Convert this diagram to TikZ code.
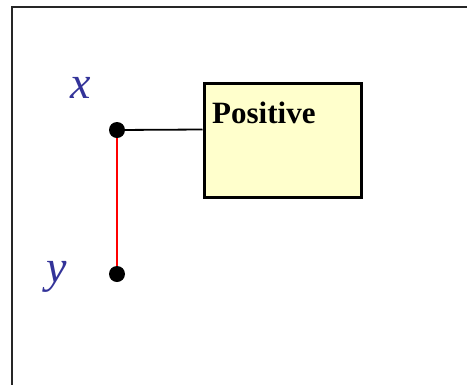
\documentclass[tikz,border=0pt]{standalone}
\usepackage{fontspec}
\setmainfont{Liberation Serif}
\definecolor{lblblue}{RGB}{51,51,153}
\definecolor{boxyellow}{RGB}{255,255,204}
\begin{document}
\begin{tikzpicture}[x=1pt,y=-1pt,
  dotnode/.style={circle,fill=black,inner sep=0pt,minimum size=16pt},
  varlabel/.style={inner sep=0pt,text=lblblue,font=\fontsize{46}{50}\selectfont\itshape},
  boxnode/.style={draw=black,line width=3pt,fill=boxyellow,minimum width=157pt,minimum height=114pt,inner sep=0pt},
  framepart/.style={draw=black!85,line width=2pt}]
\useasboundingbox (0,0) rectangle (467,384);
\coordinate (fbl) at (12,385);
\coordinate (ftl) at (12,7);
\coordinate (ftr) at (468,7);
\draw[framepart] (fbl) -- (ftl) -- (ftr);
\node[boxnode] (box) at (282.5,140) {};
\node[inner sep=0pt,anchor=base west,font=\fontsize{31}{34}\selectfont\bfseries] (pos) at (212,123) {Positive};
\coordinate (dxc) at (117,130);
\coordinate (dyc) at (117,274);
\draw[red,line width=1.5pt] (dxc) -- (dyc);
\draw[black,line width=1.8pt] (dxc) -- (box.west |- 0,129.5);
\node[dotnode] (dx) at (dxc) {};
\node[dotnode] (dy) at (dyc) {};
\node[varlabel] (lx) at (81,87.5) {x};
\node[varlabel] (ly) at (57,276.5) {y};
\end{tikzpicture}
\end{document}
